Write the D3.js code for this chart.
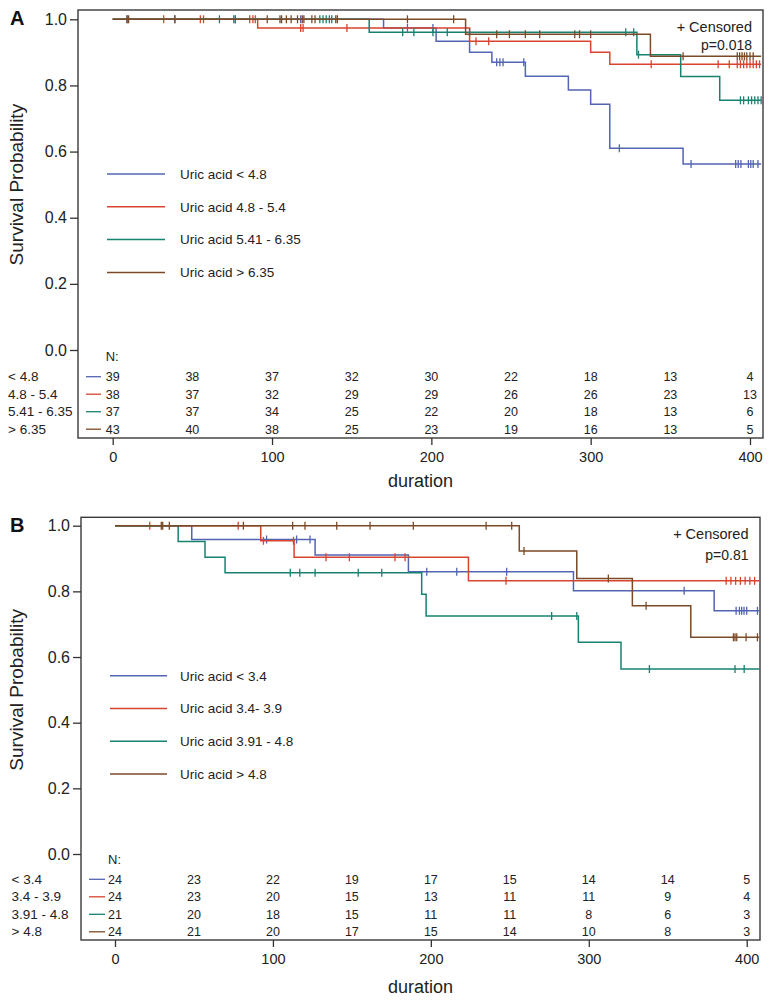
<!DOCTYPE html>
<html>
<head>
<meta charset="utf-8">
<script src="https://cdn.jsdelivr.net/npm/d3@7"></script>
<style>
  body { margin: 0; background: #fff; }
  svg { font-family: Arial, "Liberation Sans", sans-serif; }
</style>
</head>
<body>
<svg id="chart" width="774" height="1002"></svg>
<script>
/* Two Kaplan-Meier panels (A, B) with a number-at-risk table under each.
   Data is kept in small arrays; layout lives in the panel configs below. */

const riskTimes = [0, 50, 100, 150, 200, 250, 300, 350, 400];
const xTicks = [0, 100, 200, 300, 400];
const yTicks = [0, 0.2, 0.4, 0.6, 0.8, 1.0];
const colors = ['#5364b2', '#d8442f', '#178270', '#7b4a27'];

// ---- panel A ----
const groupsA = ['< 4.8', '4.8 - 5.4', '5.41 - 6.35', '> 6.35'];
const legendA = ['Uric acid < 4.8', 'Uric acid 4.8 - 5.4', 'Uric acid 5.41 - 6.35', 'Uric acid > 6.35'];
const riskA = [
  [39, 38, 37, 32, 30, 22, 18, 13, 4],
  [38, 37, 32, 29, 29, 26, 26, 23, 13],
  [37, 37, 34, 25, 22, 20, 18, 13, 6],
  [43, 40, 38, 25, 23, 19, 16, 13, 5]
];
// [time, survival after the drop]
const stepsA = [
  [[170, 0.974], [203, 0.934], [224, 0.90], [238, 0.87], [259, 0.828], [286, 0.786], [300, 0.743], [312, 0.61], [358, 0.5625]],
  [[91, 0.974], [224, 0.934], [300, 0.90], [312, 0.864]],
  [[161, 0.961], [329, 0.893], [356.5, 0.827], [381, 0.755]],
  [[221.5, 0.955], [337.5, 0.888]]
];
const censorA = [
  [9, 39, 77, 118, 185, 201, 241, 243, 245, 258, 318, 363, 391, 392.6, 394.3, 399, 400.5, 402, 405],
  [32, 55, 57, 86, 88, 89.5, 118, 119.5, 147, 228, 236, 338, 380, 387, 392, 394, 396, 398, 400, 402, 404, 406],
  [67, 76, 77, 130, 132, 134, 136, 137.5, 182, 189, 201, 210, 224, 322, 327, 330, 394, 396, 399, 401, 403, 405, 407],
  [9, 10, 39, 97, 105, 106, 109, 112, 116, 119, 120, 125, 127, 140, 141, 185, 214, 241, 249, 259, 268, 290, 293, 300, 358, 392, 393.5, 395, 396.5, 398, 400, 402]
];
const endA = 407;
const pValueA = 'p=0.018';

// ---- panel B ----
const groupsB = ['< 3.4', '3.4 - 3.9', '3.91 - 4.8', '> 4.8'];
const legendB = ['Uric acid < 3.4', 'Uric acid 3.4- 3.9', 'Uric acid 3.91 - 4.8', 'Uric acid > 4.8'];
const riskB = [
  [24, 23, 22, 19, 17, 15, 14, 14, 5],
  [24, 23, 20, 15, 13, 11, 11, 9, 4],
  [21, 20, 18, 15, 11, 11, 8, 6, 3],
  [24, 21, 20, 17, 15, 14, 10, 8, 3]
];
const stepsB = [
  [[48.6, 0.958], [126.7, 0.911], [185.8, 0.86], [290.3, 0.802], [379.4, 0.741]],
  [[92.3, 0.954], [113.4, 0.904], [223.8, 0.832]],
  [[40, 0.952], [57, 0.904], [69.7, 0.857], [194.2, 0.791], [197, 0.725], [293.4, 0.645], [320.4, 0.5635]],
  [[256, 0.923], [292.4, 0.839], [327.6, 0.756], [364.6, 0.66]]
];
const censorB = [
  [96, 115, 123.5, 197.4, 216.4, 248, 360.4, 393.3, 395.4, 396.8, 398.3, 400, 406.8],
  [22, 78, 94, 113, 133.6, 148.4, 177.3, 183.7, 247.6, 387, 390, 393, 396, 399, 402, 405],
  [111, 117, 126.7, 154, 168.9, 276.5, 292.4, 338.4, 392.6, 398.4],
  [29.3, 30.2, 34.4, 81.3, 112.5, 120.3, 140.4, 161.5, 188.9, 235, 251.2, 259, 312.4, 336.3, 391.6, 392.6, 393.7, 399.6, 406.8]
];
const endB = 408;
const pValueB = 'p=0.81';

const panels = [
  {
    letter: 'A', groups: groupsA, legend: legendA, risk: riskA, steps: stepsA, censor: censorA, end: endA, pValue: pValueA,
    x0: 112.7, x400: 750, y0: 350, y1: 19.3,
    frame: { left: 78, right: 763, top: 10, bottom: 438 },
    legendX: [107, 165], legendTextX: 180, legendY: 174, legendStep: 32.8,
    nY: 356, riskY: 376.7, riskStep: 17.5, rowLabelX: 8, riskLineX: [86, 101],
    textRight: 752, censoredY: 27, pY: 45, letterY: 25, durationY: 486.5
  },
  {
    letter: 'B', groups: groupsB, legend: legendB, risk: riskB, steps: stepsB, censor: censorB, end: endB, pValue: pValueB,
    x0: 115, x400: 746.7, y0: 854, y1: 525.7,
    frame: { left: 81, right: 760, top: 517.3, bottom: 940 },
    legendX: [110, 167], legendTextX: 180, legendY: 675.7, legendStep: 32.8,
    nY: 859.3, riskY: 879.3, riskStep: 17.5, rowLabelX: 11.5, riskLineX: [89, 105],
    textRight: 748.5, censoredY: 533.5, pY: 554.5, letterY: 532, durationY: 992.7
  }
];

function survivalAt(steps, t) {
  let s = 1;
  for (const [st, sv] of steps) if (st <= t) s = sv;
  return s;
}

function drawPanel(svg, p) {
  const g = svg.append('g');
  const x = d3.scaleLinear().domain([0, 400]).range([p.x0, p.x400]);
  const y = d3.scaleLinear().domain([0, 1]).range([p.y0, p.y1]);
  const f = p.frame;

  // frame (left, bottom, right, top)
  g.append('rect')
    .attr('x', f.left).attr('y', f.top)
    .attr('width', f.right - f.left).attr('height', f.bottom - f.top)
    .attr('fill', 'none').attr('stroke', '#3a3a3a').attr('stroke-width', 1.4);

  // y axis
  const yAxis = g.append('g')
    .attr('transform', `translate(${f.left},0)`)
    .call(d3.axisLeft(y).tickValues(yTicks).tickFormat(d3.format('.1f')).tickSize(8).tickPadding(3));
  yAxis.select('.domain').remove();
  yAxis.selectAll('line').attr('stroke', '#333').attr('stroke-width', 1.3);
  yAxis.selectAll('text').attr('font-size', 16).attr('fill', '#222').attr('font-family', 'Arial, "Liberation Sans", sans-serif');

  // x axis
  const xAxis = g.append('g')
    .attr('transform', `translate(0,${f.bottom})`)
    .call(d3.axisBottom(x).tickValues(xTicks).tickFormat(d3.format('d')).tickSize(7).tickPadding(7));
  xAxis.select('.domain').remove();
  xAxis.selectAll('line').attr('stroke', '#333').attr('stroke-width', 1.3);
  xAxis.selectAll('text').attr('font-size', 14.5).attr('fill', '#222').attr('font-family', 'Arial, "Liberation Sans", sans-serif');

  // axis titles
  g.append('text')
    .attr('x', (f.left + f.right) / 2).attr('y', p.durationY)
    .attr('text-anchor', 'middle').attr('font-size', 18).attr('fill', '#222')
    .text('duration');
  g.append('text')
    .attr('transform', `translate(23,${(p.y0 + p.y1) / 2}) rotate(-90)`)
    .attr('text-anchor', 'middle').attr('font-size', 19).attr('fill', '#222')
    .text('Survival Probability');

  // panel letter
  g.append('text')
    .attr('x', 10).attr('y', p.letterY)
    .attr('font-size', 20).attr('font-weight', 'bold').attr('fill', '#111')
    .text(p.letter);

  // survival curves: draw blue, red, teal, brown so brown ends up on top
  const line = d3.line().curve(d3.curveStepAfter).x(d => x(d[0])).y(d => y(d[1]));
  p.steps.forEach((steps, i) => {
    const pts = [[0, 1], ...steps];
    pts.push([p.end, steps[steps.length - 1][1]]);
    g.append('path')
      .attr('d', line(pts))
      .attr('fill', 'none')
      .attr('stroke', colors[i])
      .attr('stroke-width', 1.5);

    g.append('g').selectAll('line')
      .data(p.censor[i])
      .join('line')
      .attr('x1', d => x(d)).attr('x2', d => x(d))
      .attr('y1', d => y(survivalAt(steps, d)) - 4)
      .attr('y2', d => y(survivalAt(steps, d)) + 4)
      .attr('stroke', colors[i])
      .attr('stroke-width', 1.3);
  });

  // legend
  p.legend.forEach((label, i) => {
    const ly = p.legendY + i * p.legendStep;
    g.append('line')
      .attr('x1', p.legendX[0]).attr('x2', p.legendX[1])
      .attr('y1', ly).attr('y2', ly)
      .attr('stroke', colors[i]).attr('stroke-width', 1.5);
    g.append('text')
      .attr('x', p.legendTextX).attr('y', ly + 4.8)
      .attr('font-size', 13.5).attr('fill', '#222')
      .text(label);
  });

  // censored note and p value
  g.append('text')
    .attr('x', p.textRight).attr('y', p.censoredY + 5)
    .attr('text-anchor', 'end').attr('font-size', 14.5).attr('fill', '#222')
    .text('+ Censored');
  g.append('text')
    .attr('x', p.textRight).attr('y', p.pY + 5)
    .attr('text-anchor', 'end').attr('font-size', 14).attr('fill', '#222')
    .text(p.pValue);

  // number at risk table
  g.append('text')
    .attr('x', x(0) - 7).attr('y', p.nY + 4.5)
    .attr('font-size', 13).attr('fill', '#222')
    .text('N:');
  p.risk.forEach((row, i) => {
    const ry = p.riskY + i * p.riskStep;
    g.append('text')
      .attr('x', p.rowLabelX).attr('y', ry + 4.5)
      .attr('font-size', 13.5).attr('fill', '#222')
      .text(p.groups[i]);
    g.append('line')
      .attr('x1', p.riskLineX[0]).attr('x2', p.riskLineX[1])
      .attr('y1', ry).attr('y2', ry)
      .attr('stroke', colors[i]).attr('stroke-width', 1.3);
    g.append('g').selectAll('text')
      .data(row)
      .join('text')
      .attr('x', (d, j) => x(riskTimes[j]))
      .attr('y', ry + 4.5)
      .attr('text-anchor', 'middle')
      .attr('font-size', 12.5).attr('fill', '#222')
      .text(d => d);
  });
}

const svg = d3.select('#chart');
panels.forEach(p => drawPanel(svg, p));
</script>
</body>
</html>
